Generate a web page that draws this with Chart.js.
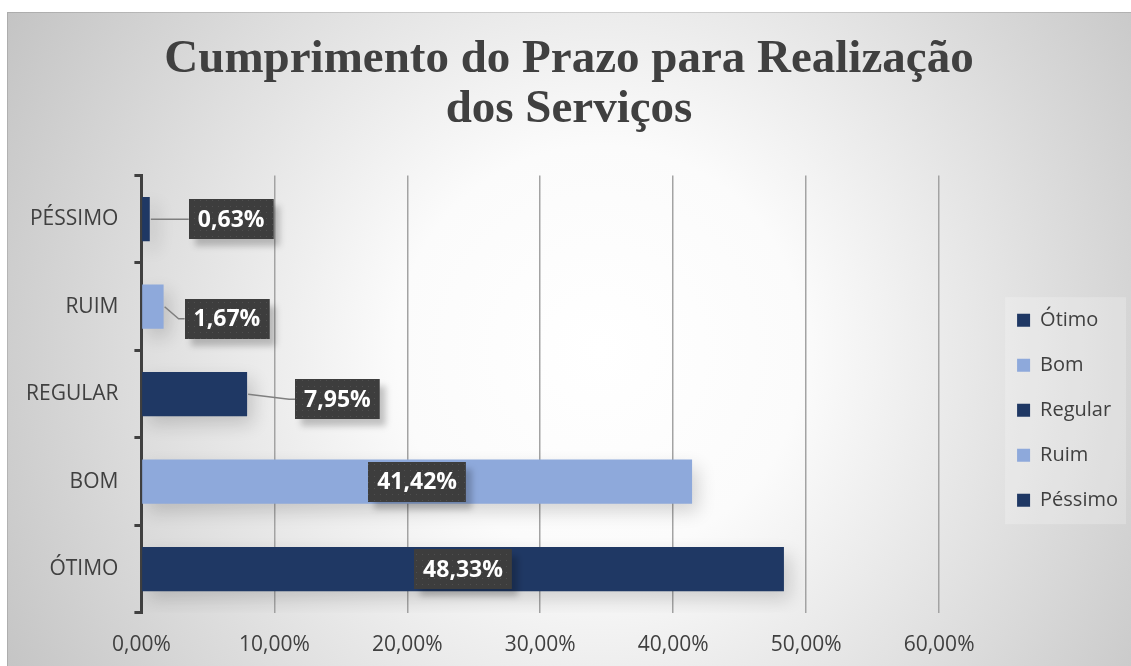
<!DOCTYPE html>
<html lang="pt-BR">
<head>
<meta charset="utf-8">
<title>Cumprimento do Prazo para Realização dos Serviços</title>
<script src="https://cdn.jsdelivr.net/npm/chart.js@4.4.1/dist/chart.umd.min.js"></script>
<style>
  html, body { margin: 0; padding: 0; background: #fff; }
  #chart { display: block; }
</style>
</head>
<body>
<canvas id="chart" width="1131" height="666"></canvas>
<script>
// dados (de baixo para cima no gráfico)
const categories   = ['ÓTIMO', 'BOM', 'REGULAR', 'RUIM', 'PÉSSIMO'];
const legendNames  = ['Ótimo', 'Bom', 'Regular', 'Ruim', 'Péssimo'];
const percentages  = [48.33, 41.42, 7.95, 1.67, 0.63];
const xTickValues  = [0, 10, 20, 30, 40, 50, 60];
const titleLines   = ['Cumprimento do Prazo para Realização', 'dos Serviços'];

const DARK  = '#1F3864';
const LIGHT = '#8EA9DB';
const BAR_COLORS = [DARK, LIGHT, DARK, LIGHT, DARK];
const TEXT = '#404040';
const UI_FONT = '"Open Sans", "DejaVu Sans", sans-serif';

// deslocamento dos rótulos externos (px a partir do fim da barra)
const LABEL_NUDGE = { 2: [48, 5], 3: [21, 12], 4: [39, 0] };
const LEGEND_GAP = 53;
const LEGEND_DROP = 16;

const fmtPct = v => v.toFixed(2).replace('.', ',') + '%';

// fundo com gradiente radial (estilo Excel)
const backgroundPlugin = {
  id: 'bg',
  beforeDraw(chart) {
    const { ctx, width, height } = chart;
    ctx.save();
    ctx.fillStyle = '#ffffff';
    ctx.fillRect(0, 0, width, height);
    const g = ctx.createRadialGradient(600, 350, 0, 600, 350, 680);
    g.addColorStop(0, '#ffffff');
    g.addColorStop(0.3, '#fbfbfb');
    g.addColorStop(1, '#c4c4c4');
    ctx.fillStyle = g;
    ctx.fillRect(7, 12, width - 7, height - 12);
    ctx.strokeStyle = 'rgba(0,0,0,0.12)';
    ctx.lineWidth = 1;
    ctx.beginPath();
    ctx.moveTo(7.5, height);
    ctx.lineTo(7.5, 12.5);
    ctx.lineTo(width, 12.5);
    ctx.stroke();
    ctx.restore();
  }
};

// afasta a legenda da área do gráfico e desenha a caixa de fundo
const legendGapPlugin = {
  id: 'legendGap',
  beforeLayout(chart) {
    const lg = chart.legend;
    if (lg && !lg._gapWrapped) {
      const fit = lg.fit;
      lg.fit = function () { fit.call(this); this.width += LEGEND_GAP; };
      lg._gapWrapped = true;
    }
  },
  afterLayout(chart) {
    const lg = chart.legend;
    if (!lg) return;
    lg.left += LEGEND_GAP;
    lg.width -= LEGEND_GAP;
    lg.top += LEGEND_DROP;
    lg.bottom += LEGEND_DROP;
  },
  beforeDraw(chart) {
    const lg = chart.legend;
    if (!lg || !lg.columnSizes || !lg.columnSizes.length) return;
    const pad = lg.options.labels.padding;
    const colH = lg.columnSizes[0].height;
    const y0 = (lg.top + pad + lg.bottom - colH) / 2;
    const x0 = lg.left + pad - 12;
    const { ctx } = chart;
    ctx.save();
    ctx.fillStyle = 'rgba(255,255,255,0.22)';
    ctx.fillRect(x0, y0 - 13, chart.width - 5 - x0, colH + 2);
    ctx.restore();
  }
};

// sombra das barras
const barShadowPlugin = {
  id: 'barShadow',
  beforeDatasetDraw(chart) {
    const { ctx } = chart;
    ctx.save();
    ctx.shadowColor = 'rgba(0,0,0,0.16)';
    ctx.shadowBlur = 18;
    ctx.shadowOffsetX = 6;
    ctx.shadowOffsetY = 8;
  },
  afterDatasetDraw(chart) {
    chart.ctx.restore();
  }
};

function makeDotPattern(ctx) {
  const c = document.createElement('canvas');
  c.width = 6; c.height = 6;
  const p = c.getContext('2d');
  p.fillStyle = '#3d3d3d';
  p.fillRect(0, 0, 6, 6);
  p.fillStyle = 'rgba(255,255,255,0.10)';
  p.fillRect(2, 2, 1, 1);
  return ctx.createPattern(c, 'repeat');
}

// rótulos de dados com caixa escura e linhas de chamada
const dataLabelPlugin = {
  id: 'boxLabels',
  afterDatasetsDraw(chart) {
    const { ctx } = chart;
    const meta = chart.getDatasetMeta(0);
    const values = chart.data.datasets[0].data;
    const pattern = makeDotPattern(ctx);
    ctx.save();
    ctx.font = 'bold 23px ' + UI_FONT;
    meta.data.forEach((bar, i) => {
      const text = fmtPct(values[i]);
      const tw = ctx.measureText(text).width;
      const bw = tw + 18, bh = 40;
      let cx, cy;
      const nudge = LABEL_NUDGE[i];
      if (nudge) {
        const left = bar.x + nudge[0];
        cx = left + bw / 2;
        cy = bar.y + nudge[1];
        ctx.strokeStyle = '#7f7f7f';
        ctx.lineWidth = 1.5;
        ctx.beginPath();
        ctx.moveTo(bar.x + 1, bar.y);
        ctx.lineTo(left - 6, cy);
        ctx.lineTo(left, cy);
        ctx.stroke();
      } else {
        cx = (bar.x + bar.base) / 2;
        cy = bar.y;
      }
      const bx = Math.round(cx - bw / 2), by = Math.round(cy - bh / 2);
      ctx.save();
      ctx.shadowColor = 'rgba(0,0,0,0.22)';
      ctx.shadowBlur = 6;
      ctx.shadowOffsetX = 6;
      ctx.shadowOffsetY = 7;
      ctx.fillStyle = pattern;
      ctx.fillRect(bx, by, bw, bh);
      ctx.restore();
      ctx.fillStyle = '#ffffff';
      ctx.textAlign = 'center';
      ctx.textBaseline = 'middle';
      ctx.fillText(text, cx, cy + 1);
    });
    ctx.restore();
  }
};

new Chart(document.getElementById('chart'), {
  type: 'bar',
  data: {
    labels: categories,
    datasets: [{
      label: 'Percentual',
      data: percentages,
      backgroundColor: BAR_COLORS,
      borderWidth: 0,
      categoryPercentage: 1,
      barPercentage: 0.506
    }]
  },
  options: {
    indexAxis: 'y',
    responsive: false,
    animation: false,
    layout: { padding: { top: 12, left: 10, right: 3, bottom: -12 } },
    plugins: {
      title: {
        display: true,
        text: titleLines,
        color: TEXT,
        font: { family: '"Liberation Serif", "DejaVu Serif", serif', size: 47, weight: 'bold', lineHeight: 1.08 },
        padding: { top: 22, bottom: 40 }
      },
      legend: {
        display: true,
        position: 'right',
        align: 'center',
        fullSize: false,
        labels: {
          color: TEXT,
          font: { family: UI_FONT, size: 20 },
          boxWidth: 13,
          boxHeight: 13,
          padding: 25,
          generateLabels: () => legendNames.map((name, i) => ({
            text: name,
            fillStyle: BAR_COLORS[i],
            strokeStyle: BAR_COLORS[i],
            lineWidth: 0,
            fontColor: TEXT,
            hidden: false,
            index: i
          }))
        }
      },
      tooltip: { enabled: false }
    },
    scales: {
      x: {
        min: xTickValues[0],
        max: xTickValues[xTickValues.length - 1],
        afterBuildTicks: axis => { axis.ticks = xTickValues.map(v => ({ value: v })); },
        grid: { color: '#a3a3a3', lineWidth: 1.5, drawTicks: false },
        border: { display: false },
        ticks: {
          color: TEXT,
          font: { family: UI_FONT, size: 21 },
          padding: 20,
          maxRotation: 0,
          minRotation: 0,
          callback: v => fmtPct(v)
        }
      },
      y: {
        reverse: true,
        grid: {
          display: true,
          drawOnChartArea: false,
          drawTicks: true,
          tickLength: 7,
          offset: true,
          color: TEXT,
          lineWidth: 3
        },
        border: { display: true, color: TEXT, width: 3 },
        ticks: {
          color: TEXT,
          font: { family: UI_FONT, size: 21 },
          padding: 16
        }
      }
    }
  },
  plugins: [backgroundPlugin, legendGapPlugin, barShadowPlugin, dataLabelPlugin]
});
</script>
</body>
</html>
